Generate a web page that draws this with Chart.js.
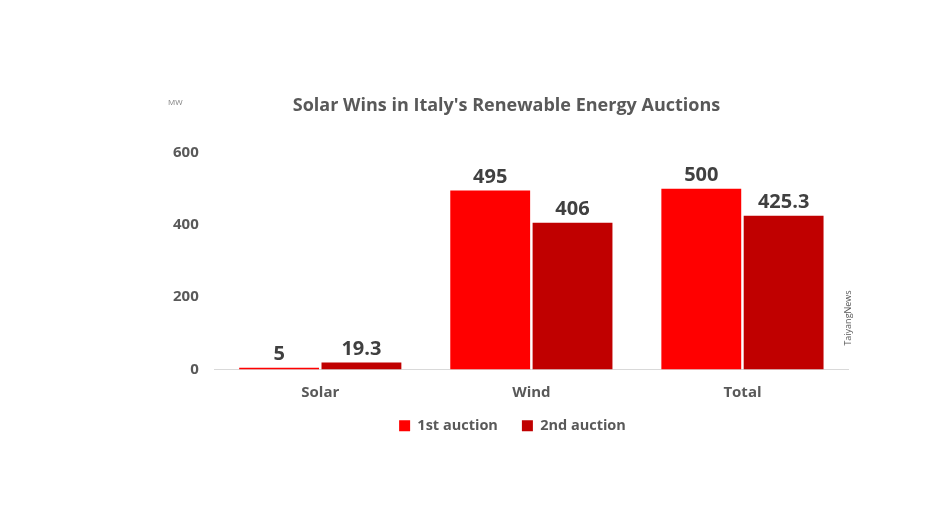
<!DOCTYPE html>
<html>
<head>
<meta charset="utf-8">
<script src="https://cdn.jsdelivr.net/npm/chart.js@4.4.1/dist/chart.umd.min.js"></script>
<style>
html,body{margin:0;padding:0;background:#fff;}
#wrap{width:944px;height:531px;position:relative;}
</style>
</head>
<body>
<div id="wrap"><canvas id="auctionChart"></canvas></div>
<script>
const categories = ["Solar", "Wind", "Total"];
const firstAuction = [5, 495, 500];
const secondAuction = [19.3, 406, 425.3];
const seriesNames = ["1st auction", "2nd auction"];
const yTicks = [0, 200, 400, 600];

const FONT = "'Open Sans', Lato, sans-serif";

// value labels above the bars + small notes
const extras = {
id:"extras",
afterLayout(chart){
// pull the legend a bit closer to the axis, like the original
const lg = chart.legend;
lg.top -= 13; lg.bottom -= 13;
lg.left += 6; lg.right += 6;
},
afterDatasetsDraw(chart){
const ctx = chart.ctx;
ctx.save();
ctx.font = "bold 20px " + FONT;
ctx.fillStyle = "#404040";
ctx.textAlign = "center";
ctx.textBaseline = "bottom";
chart.data.datasets.forEach((ds, i) => {
chart.getDatasetMeta(i).data.forEach((bar, j) => {
ctx.fillText(String(ds.data[j]), bar.x, bar.y - 3);
});
});
// unit note
ctx.font = "8px " + FONT;
ctx.fillStyle = "#7f7f7f";
ctx.textAlign = "left";
ctx.textBaseline = "middle";
ctx.fillText("MW", 168, 103);
// source note, vertical
ctx.translate(848, 318);
ctx.rotate(-Math.PI / 2);
ctx.textAlign = "center";
ctx.font = "9px " + FONT;
ctx.fillStyle = "#595959";
ctx.fillText("TaiyangNews", 0, 0);
ctx.restore();
}
};

new Chart(document.getElementById("auctionChart"),{
type:"bar",
data:{
labels:categories,
datasets:[{
label:seriesNames[0],
data:firstAuction,
backgroundColor:"#FF0000"
},{
label:seriesNames[1],
data:secondAuction,
backgroundColor:"#C00000"
}]
},
options:{
responsive:true,
maintainAspectRatio:false,
animation:false,
layout:{ padding:{ left:165, right:96, top:95, bottom:75 } },
datasets:{ bar:{ categoryPercentage:0.78, barPercentage:0.97 } },
plugins:{
title:{
display:true,
text:"Solar Wins in Italy's Renewable Energy Auctions",
color:"#595959",
font:{ family:FONT, size:18, weight:'bold' },
padding:{ top:0, bottom:36 }
},
legend:{
position:"bottom",
labels:{
boxWidth:11, boxHeight:11, padding:24,
color:"#595959",
font:{ family:FONT, size:14.5, weight:'bold' }
}
},
tooltip:{ enabled:false }
},
scales:{
x:{
grid:{ display:false },
border:{ color:"#d9d9d9" },
ticks:{ color:"#595959", padding:6, font:{ family:FONT, size:15, weight:'bold' } }
},
y:{
min:0, max:600,
afterBuildTicks(axis){ axis.ticks = yTicks.map(v => ({ value:v })); },
grid:{ display:false },
border:{ display:false },
ticks:{ color:"#595959", padding:8, font:{ family:FONT, size:15, weight:'bold' } }
}
}
},
plugins:[extras]
});
</script>
</body>
</html>
